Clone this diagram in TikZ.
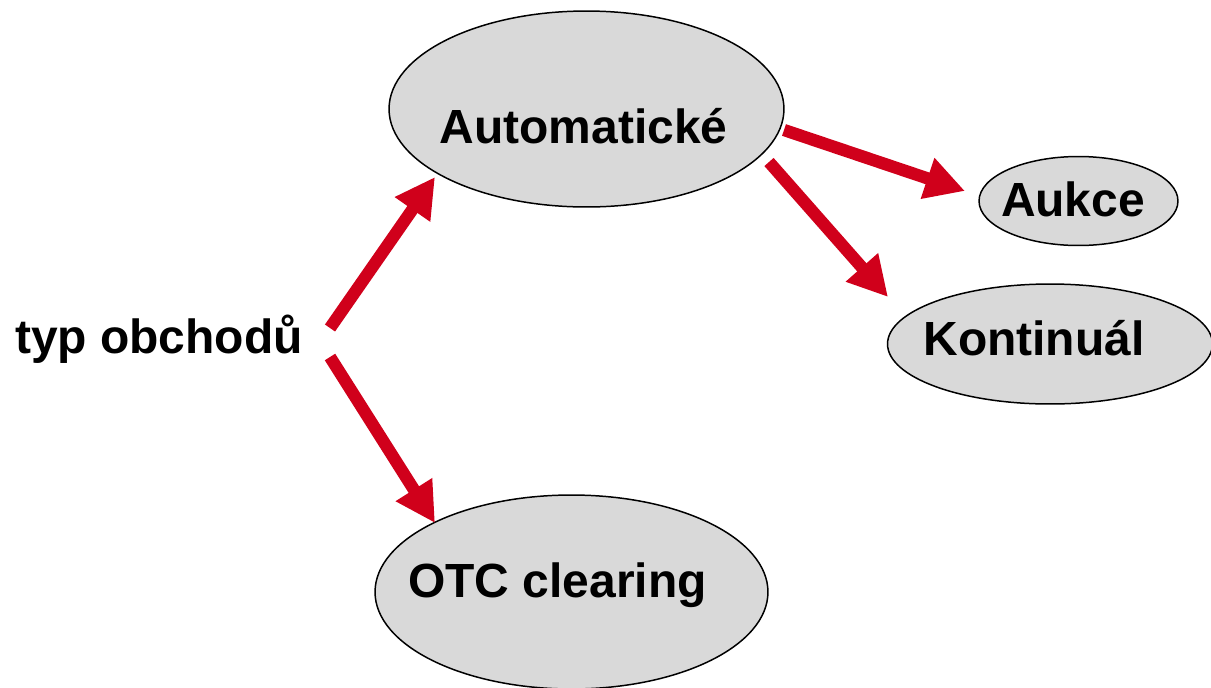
\documentclass[tikz,border=0pt]{standalone}
\usepackage{fontspec}
\setmainfont{Liberation Sans}
\usetikzlibrary{arrows.meta,shapes.geometric}
\definecolor{arrred}{RGB}{208,0,27}
\definecolor{blobgray}{RGB}{217,217,217}
\tikzset{
  blob/.style={ellipse, draw=black, line width=0.85pt, fill=blobgray, inner sep=0pt},
  lbl/.style={anchor=base, inner sep=0pt, font=\fontsize{27.3}{32}\selectfont\bfseries},
  arr/.style={draw=arrred, line width=7pt, -{Triangle[length=22.5pt,width=23pt]}}
}
\begin{document}
\begin{tikzpicture}[x=0.02cm,y=-0.02cm]
\useasboundingbox (0,0) rectangle (1211,687);
% ellipses
\node[blob, minimum width=7.9cm, minimum height=3.92cm] (auto) at (586.5,109) {};
\node[blob, minimum width=3.98cm, minimum height=1.78cm] (aukce) at (1078.5,201) {};
\node[blob, minimum width=6.5cm, minimum height=2.4cm] (kont) at (1050,344) {};
\node[blob, minimum width=7.86cm, minimum height=3.88cm] (otc) at (571.5,592) {};
% labels
\node[lbl] (tauto) at (583.5,143) {Automatické};
\node[lbl] (taukce) at (1073,216) {Aukce};
\node[lbl] (tkont) at (1034,355) {Kontinuál};
\node[lbl] (totc) at (557.5,597) {OTC clearing};
\node[lbl] (typ) at (159,353) {typ obchodů};
% arrow ends
\coordinate (s1) at (330,328);
\coordinate (e1) at (435,177);
\coordinate (s2) at (330,357);
\coordinate (e2) at (435,523);
\coordinate (s3) at (784,130);
\coordinate (e3) at (965,191);
\coordinate (s4) at (769,162);
\coordinate (e4) at (888,297);
\draw[arr] (s1) -- (e1);
\draw[arr] (s2) -- (e2);
\draw[arr] (s3) -- (e3);
\draw[arr] (s4) -- (e4);
\end{tikzpicture}
\end{document}
